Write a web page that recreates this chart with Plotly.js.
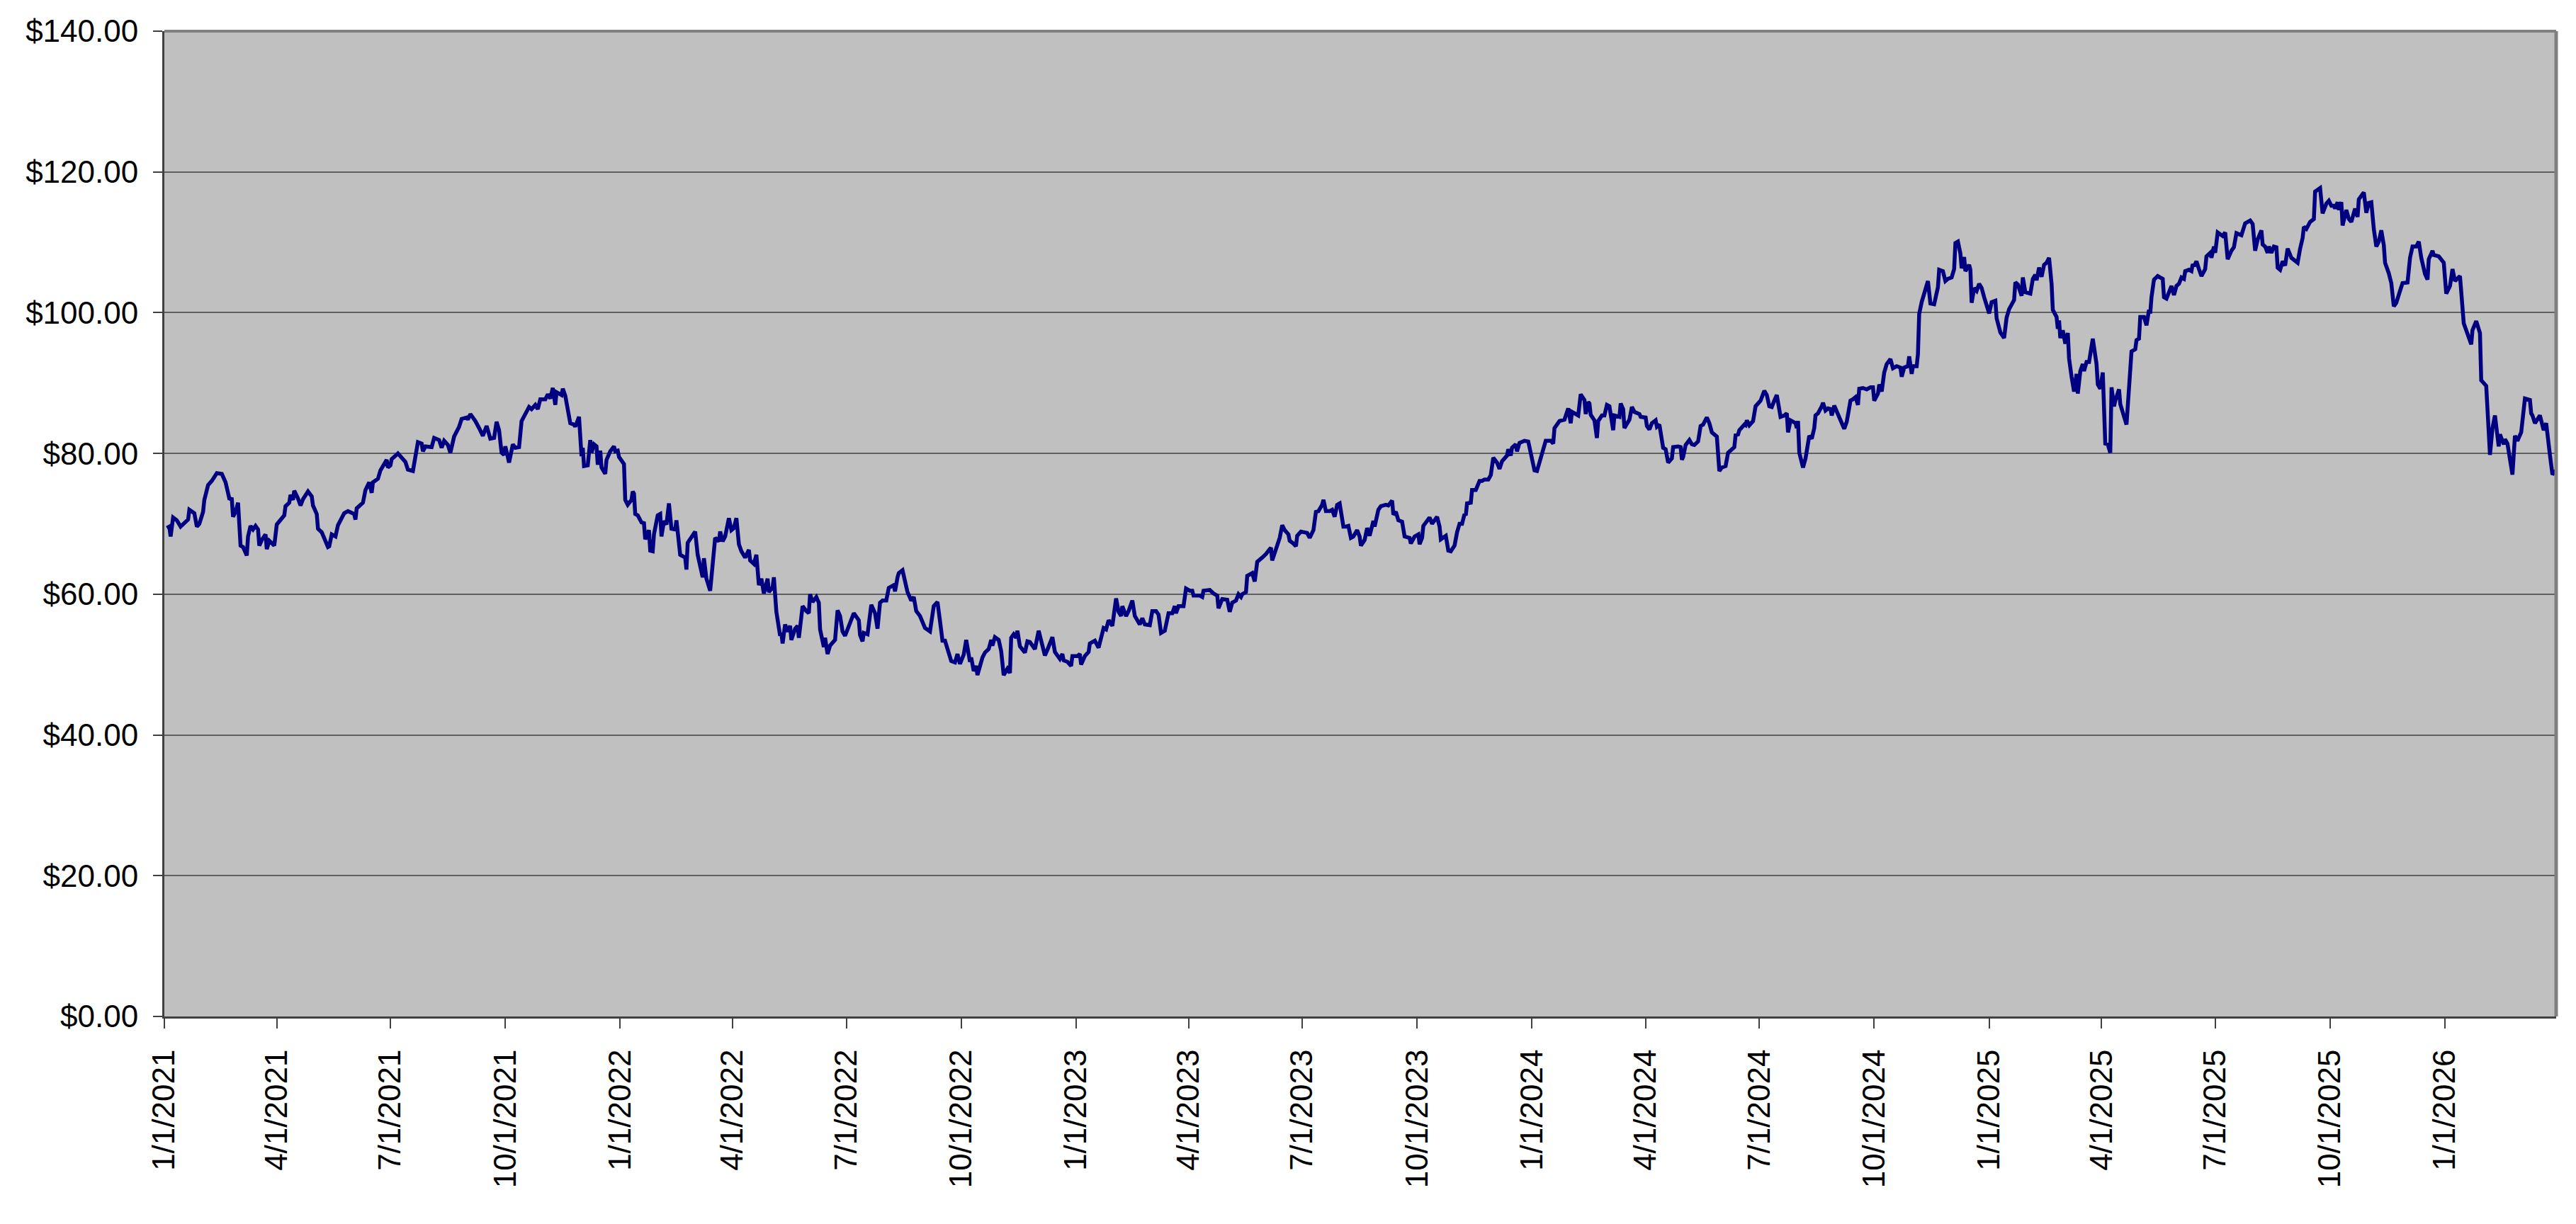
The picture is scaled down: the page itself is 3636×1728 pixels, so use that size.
<!DOCTYPE html>
<html>
<head>
<meta charset="utf-8">
<script src="https://cdn.plot.ly/plotly-3.0.1.min.js"></script>
<style>
  html, body { margin: 0; padding: 0; background: #ffffff; }
  #grafico { width: 3636px; height: 1728px; }
</style>
</head>
<body>
<div id="grafico"></div>
<script>
/* ============================================================================
 * Datos (días desde 1/1/2021 y precio de cierre)
 * ========================================================================== */

const FECHA_INICIO = "2021-01-01";
const FECHA_FIN = "2026-03-31";

const dias2021 = [2,4,5,7,10,13,19,20,24,26,28,31,32,35,38,42,46,48,49,52,54,55,57,59,61,63,66,67,69,71,73,75,76,78,81,82,84,88,90,96,97,100,101,103,104,107,109,111,115,118,119,122,123,126,129,131,132,134,137,139,144,147,152,153,154,159,161,164,166,167,171,173,178,179,181,182,187,191,193,195,199,203,206,207,209,214,216,220,222,224,227,229,232,236,238,242,243,245,249,252,255,258,261,264,266,268,270,272,273,276,279,281,284,286,290,292,294,297,299,301,305,307,309,311,313,314,318,319,321,323];
const precios2021 = [69.4,69.6,68.2,70.9,70.5,69.6,70.6,72.0,71.5,69.6,70.0,71.7,73.4,75.5,76.1,77.2,77.1,76.1,75.9,73.6,73.5,71.0,71.7,73.0,66.9,66.7,65.5,68.2,69.7,69.2,69.7,69.2,66.9,67.7,68.5,66.4,67.6,66.9,69.9,71.2,72.5,73.0,74.1,73.4,74.7,73.6,72.6,73.5,74.6,73.9,72.6,71.4,69.3,68.8,67.7,66.7,66.8,68.5,68.2,69.8,71.5,71.8,71.4,70.6,72.2,73.0,74.8,75.9,74.4,75.9,76.4,77.6,79.1,78.0,78.3,79.2,80.0,79.3,78.8,77.7,77.5,81.6,81.4,80.3,81.0,80.9,82.2,81.9,80.8,81.8,81.2,80.1,82.4,83.8,84.9,85.1,84.8,85.6,84.6,83.6,82.5,83.9,82.1,82.2,84.5,83.3,80.1,79.8,81.0,78.7,81.3,80.8,80.9,84.6,86.1,86.6,86.3,86.9,86.3,87.7,87.7,88.4,87.8,89.3,86.9,88.7,88.3,89.2,88.2,86.2];

const dias2022 = [325,328,329,332,334,335,336,339,341,342,344,346,347,349,350,353,354,357,360,361,363,364,368,369,371,374,375,376,377,379,382,384,385,388,389,391,392,395,397,398,400,402,404,406,409,410,413,417,418,419,422,425,427,431,432,434,437,439,441,444,445,447,449,452,454,456,458,460,462,465,468,469,472,474,476,478,480,483,484,487,488,490,493,494,495,497,499,501,502,505,507,508,511,514,516,517,519,522,524,525,528,529,531,533,537,539,541,543,545,547,550,552,556,557,559,560,563,566,569,571,573,575,578,580,584,585,587,588,591,593,595,598,600,602,605,609,613,616,619,621,623,625,630,633,635,637,640,642,645];
const precios2022 = [84.3,84.1,83.8,85.2,79.6,80.8,78.2,78.3,81.9,80.1,81.3,81.0,78.4,80.4,78.0,77.1,79.1,80.3,81.0,80.3,80.4,79.5,78.5,73.4,72.7,73.4,74.6,74.3,71.4,71.2,70.2,70.1,67.8,69.1,66.2,66.1,68.5,71.2,71.4,68.2,70.4,69.9,72.9,69.3,69.2,70.5,65.6,65.2,63.5,67.3,68.2,68.9,65.6,62.4,65.1,62.2,60.5,64.3,68.0,67.5,68.9,67.5,68.2,70.8,69.1,69.4,70.8,67.1,66.1,65.2,66.3,64.8,64.3,65.6,61.3,62.2,60.1,62.2,60.3,61.0,62.4,57.5,54.1,54.5,53.0,55.7,54.7,55.5,53.5,55.1,55.5,53.8,58.3,57.6,57.3,60.0,58.9,59.6,58.8,55.0,52.5,53.8,51.5,52.7,53.5,57.7,56.9,54.7,54.1,55.0,56.2,57.3,56.3,54.2,53.3,54.5,54.3,58.5,57.3,55.1,58.8,59.1,59.1,60.9,61.3,60.4,62.4,63.0,63.4,61.9,60.3,59.1,59.6,57.6,56.9,55.2,54.7,58.3,58.9,56.2,53.4,53.4,50.5,50.3,51.5,50.1,51.4,53.5,50.4];

const dias2023 = [646,648,650,651,655,657,660,662,663,665,668,670,672,675,677,678,680,682,683,685,689,691,693,697,700,703,705,707,711,713,717,719,720,723,726,727,731,733,734,737,740,741,745,748,750,752,754,756,759,762,764,766,767,770,772,775,777,781,783,785,789,791,794,796,798,801,804,807,809,810,812,816,818,821,823,824,829,831,832,837,840,843,844,847,851,853,855,858,860,862,863,866,867,871,873,875,879,882,885,886,887,891,893,895,897,900,901,904,906,907,910,915,917,920,922,924,927,928,930,933,935,937,939,941,944,946,948,950,952,955,957,958,961,963,965,968];
const precios2023 = [51.0,49.1,49.8,48.5,51.0,51.7,52.2,53.5,52.7,53.9,53.5,51.9,48.5,49.4,48.8,53.8,54.3,53.8,54.8,52.6,51.7,53.3,53.2,52.2,54.8,52.7,51.3,52.1,53.9,51.8,50.8,51.5,50.6,50.4,49.8,51.2,51.2,51.5,50.0,51.2,51.8,53.0,53.4,52.4,53.9,55.2,55.0,56.3,55.5,59.4,57.5,56.9,58.3,56.9,57.6,59.1,56.9,55.7,56.6,55.7,55.6,57.6,57.6,57.1,54.5,54.8,57.3,57.3,58.3,57.3,58.3,58.3,60.8,60.5,60.5,59.8,59.8,59.6,60.5,60.6,60.1,59.8,58.0,59.3,59.2,57.5,58.8,59.1,60.0,59.6,60.0,60.3,62.6,63.0,61.8,64.6,65.2,65.7,66.4,66.6,64.8,66.9,68.0,69.8,69.1,68.5,67.6,67.2,66.8,68.3,68.9,68.7,68.0,69.1,71.7,71.8,72.7,73.4,71.8,71.8,72.0,71.0,72.7,72.9,69.6,69.6,69.7,68.0,68.2,69.1,68.2,66.9,67.7,69.4,68.3,70.4];

const dias2024 = [969,972,974,978,980,983,984,986,988,991,993,997,998,1001,1004,1005,1007,1008,1012,1013,1015,1019,1021,1022,1026,1028,1030,1033,1035,1037,1039,1041,1042,1043,1046,1047,1050,1053,1055,1057,1060,1062,1064,1067,1069,1071,1075,1076,1078,1079,1082,1083,1085,1089,1092,1095,1097,1099,1102,1104,1106,1110,1112,1113,1117,1121,1124,1126,1127,1132,1134,1137,1138,1140,1141,1142,1145,1147,1148,1151,1153,1155,1157,1160,1161,1165,1166,1168,1169,1173,1175,1177,1181,1182,1186,1187,1189,1191,1194,1195,1197,1200,1202,1204,1207,1208,1212,1214,1215,1216,1218,1221,1223,1225,1228,1230,1232,1234,1235,1237,1239,1243,1245,1247,1250,1252,1255,1257,1258,1260,1261,1265,1266,1267,1269,1272,1274,1278,1281,1283,1285,1287,1289,1291];
const precios2024 = [69.6,72.0,72.5,72.7,72.6,73.3,71.3,71.7,70.5,70.3,68.2,68.0,67.2,68.2,68.5,67.1,68.0,69.7,70.5,70.9,70.0,71.0,69.6,67.8,68.3,66.2,66.1,66.9,68.8,70.0,70.0,71.4,71.2,72.9,73.0,74.8,74.8,76.1,76.1,76.3,76.3,76.9,79.4,78.7,77.8,78.9,79.7,80.6,79.7,80.8,81.3,80.3,81.5,81.8,81.7,79.3,77.6,77.5,79.4,80.8,81.8,81.8,81.4,83.6,84.6,84.8,86.4,84.3,85.9,85.4,88.4,87.6,85.6,87.3,87.1,85.5,84.7,82.2,84.6,85.4,85.4,86.9,86.7,83.3,85.4,85.2,87.1,86.3,83.6,84.8,86.6,85.9,85.6,85.2,85.1,83.9,83.4,84.3,84.7,83.8,84.1,80.8,80.6,78.7,79.3,80.9,81.0,80.9,79.1,79.5,81.2,81.9,81.3,81.2,81.7,83.9,84.1,84.8,85.1,84.3,83.0,82.4,77.5,78.0,78.2,80.1,80.5,80.9,82.6,82.7,83.3,84.1,84.0,84.7,84.0,84.6,86.7,87.5,88.9,88.3,86.7,86.6,87.5,88.3];

const dias2025 = [1294,1297,1299,1300,1302,1306,1307,1308,1309,1312,1314,1316,1317,1319,1321,1322,1324,1327,1328,1330,1332,1334,1335,1337,1340,1343,1345,1347,1350,1352,1354,1356,1357,1360,1363,1366,1368,1369,1372,1373,1375,1377,1379,1382,1384,1387,1390,1391,1393,1396,1397,1399,1400,1403,1404,1405,1407,1410,1412,1414,1417,1420,1421,1424,1426,1428,1431,1433,1434,1436,1438,1439,1441,1442,1445,1446,1447,1449,1451,1453,1455,1457,1460,1461,1463,1466,1467,1470,1473,1475,1477,1481,1482,1484,1487,1488,1490,1494,1496,1498,1499,1501,1503,1505,1507,1509,1511,1512,1515,1516,1517,1518,1520,1522,1524,1525,1527,1529,1531,1532,1534,1536,1537,1539,1541,1544,1547,1548,1550,1552,1554,1556,1558,1559,1561,1562,1565,1566,1571,1573,1575,1578,1579,1581,1582,1585,1587,1589,1590,1591,1593,1596,1600,1601,1603,1607,1609,1611,1613,1615];
const precios2025 = [85.2,85.4,85.7,83.0,84.7,84.3,83.6,84.6,80.1,78.0,79.3,82.1,82.5,82.1,83.6,85.4,85.7,86.7,87.2,86.1,86.4,86.3,85.4,86.8,85.6,84.6,83.5,84.5,87.5,87.7,88.0,86.9,89.2,89.3,89.1,89.4,89.4,87.5,88.5,89.8,88.8,91.5,92.7,93.4,92.1,92.4,92.2,90.9,92.2,92.4,93.8,91.3,92.4,92.4,94.1,99.8,101.5,103.3,104.5,101.3,101.2,103.6,106.1,105.9,104.5,104.8,105.0,106.2,109.9,110.1,108.4,106.3,107.9,105.9,106.8,106.1,101.4,103.5,103.1,104.1,103.5,102.2,100.6,99.9,101.5,101.7,99.2,97.2,96.4,99.3,100.5,101.8,104.3,104.0,102.4,105.0,102.9,102.7,104.8,105.4,104.6,106.4,105.1,106.8,107.1,107.8,104.1,100.4,99.4,97.7,98.9,96.4,97.5,95.6,97.1,93.5,90.9,88.8,91.3,88.5,91.7,92.7,91.7,93.0,93.0,96.3,92.7,89.8,89.2,91.5,81.4,81.3,80.1,89.4,86.7,87.5,89.1,87.0,84.1,89.4,94.5,94.8,96.1,96.3,99.4,99.4,98.2,100.4,99.9,102.2,104.7,105.2,104.8,102.2,102.0,103.8,102.5,103.8,104.1,105.0];

const dias2026 = [1617,1618,1621,1623,1624,1625,1627,1629,1631,1634,1635,1638,1639,1641,1642,1644,1648,1650,1652,1655,1657,1659,1663,1666,1670,1672,1674,1676,1679,1680,1682,1684,1685,1687,1689,1691,1692,1694,1696,1698,1700,1703,1706,1708,1710,1712,1713,1715,1718,1721,1722,1726,1728,1731,1733,1735,1737,1738,1740,1741,1743,1744,1747,1749,1751,1754,1756,1757,1761,1763,1765,1767,1769,1771,1773,1775,1777,1778,1781,1783,1785,1787,1790,1792,1796,1798,1800,1803,1805,1807,1810,1812,1813,1816,1817,1821,1825,1827,1830,1832,1834,1838,1841,1844,1847,1848,1851,1854,1855,1859,1860,1862,1864,1866,1869,1870,1873,1874,1876,1880,1882,1884,1887,1890,1894,1895,1896,1898,1902,1903,1905,1907,1909,1910,1912,1915];
const precios2026 = [104.8,105.9,106.1,105.9,106.9,106.6,107.3,106.2,105.2,106.2,108.0,108.5,107.8,109.4,108.5,111.4,110.9,111.4,107.6,108.8,109.3,111.3,111.0,112.7,113.1,112.6,108.8,110.4,111.7,109.7,109.4,108.5,109.4,108.5,109.4,109.3,106.4,106.1,107.3,106.7,109.1,107.8,107.3,107.1,109.1,110.6,112.2,111.9,112.9,113.3,117.2,117.7,114.1,115.5,115.9,115.2,115.2,114.8,115.7,114.6,115.7,112.4,114.6,113.3,112.9,114.8,113.6,116.1,117.1,114.2,115.6,115.7,111.9,109.4,110.1,111.7,109.6,107.1,105.6,104.2,100.9,101.4,103.1,104.2,104.3,107.8,109.4,109.4,110.1,107.8,105.5,104.7,107.6,108.8,108.2,108.0,107.1,102.7,103.8,106.2,104.5,105.2,98.5,96.8,95.5,97.5,98.8,97.1,90.4,89.6,85.2,79.8,83.6,85.4,81.0,82.7,81.3,82.0,81.4,77.0,82.5,81.8,83.0,87.8,87.6,85.7,85.4,84.3,85.4,84.6,83.3,84.3,80.8,79.8,77.0,77.6];


/* ============================================================================
 * Funciones Auxiliares
 * ========================================================================== */

/**
 * Convierte un número de días desde FECHA_INICIO en una fecha ISO.
 */
function diaAFecha(dia) {
    const base = Date.UTC(2021, 0, 1);
    return new Date(base + dia * 86400000).toISOString().slice(0, 10);
}


/* ============================================================================
 * Construcción del Gráfico
 * ========================================================================== */

function crearGrafico() {

    const dias = [].concat(dias2021, dias2022, dias2023, dias2024, dias2025, dias2026);
    const precios = [].concat(precios2021, precios2022, precios2023, precios2024, precios2025, precios2026);

    const tracePrecio = {
        type: "scatter",
        mode: "lines",
        x: dias.map(diaAFecha),
        y: precios,
        line: { color: "#000080", width: 5.5 },
        hoverinfo: "x+y"
    };

    const fuente = { family: "Liberation Sans, Arial, sans-serif", size: 44, color: "#000000" };

    const layout = {
        width: 3636,
        height: 1728,
        margin: { l: 232, r: 28, t: 44, b: 293 },
        paper_bgcolor: "#ffffff",
        plot_bgcolor: "#c0c0c0",
        showlegend: false,
        font: fuente,
        xaxis: {
            type: "date",
            range: [FECHA_INICIO, FECHA_FIN],
            tick0: FECHA_INICIO,
            dtick: "M3",
            tickformat: "%-m/%-d/%Y",
            tickangle: -90,
            ticks: "outside",
            ticklen: 14,
            tickwidth: 2,
            tickcolor: "#404040",
            ticklabelstandoff: 12,
            showgrid: false,
            zeroline: false,
            showline: true,
            linecolor: "#404040",
            linewidth: 3,
            tickfont: fuente
        },
        yaxis: {
            range: [0, 140],
            dtick: 20,
            tickprefix: "$",
            tickformat: ".2f",
            ticks: "outside",
            ticklen: 13,
            tickwidth: 2,
            tickcolor: "#404040",
            ticklabelstandoff: 12,
            showgrid: true,
            gridcolor: "#606060",
            gridwidth: 2,
            zeroline: false,
            showline: true,
            linecolor: "#404040",
            linewidth: 3,
            tickfont: fuente
        },
        shapes: [
            {
                type: "line", xref: "paper", yref: "paper",
                x0: 0, x1: 1, y0: 1, y1: 1,
                line: { color: "#808080", width: 4 }
            },
            {
                type: "line", xref: "paper", yref: "paper",
                x0: 1, x1: 1, y0: 0, y1: 1,
                line: { color: "#808080", width: 5 }
            }
        ]
    };

    Plotly.newPlot("grafico", [tracePrecio], layout, { displayModeBar: false, staticPlot: true });
}


/* ============================================================================
 * Inicialización
 * ========================================================================== */

document.addEventListener("DOMContentLoaded", () => {

    crearGrafico();

});
</script>
</body>
</html>
